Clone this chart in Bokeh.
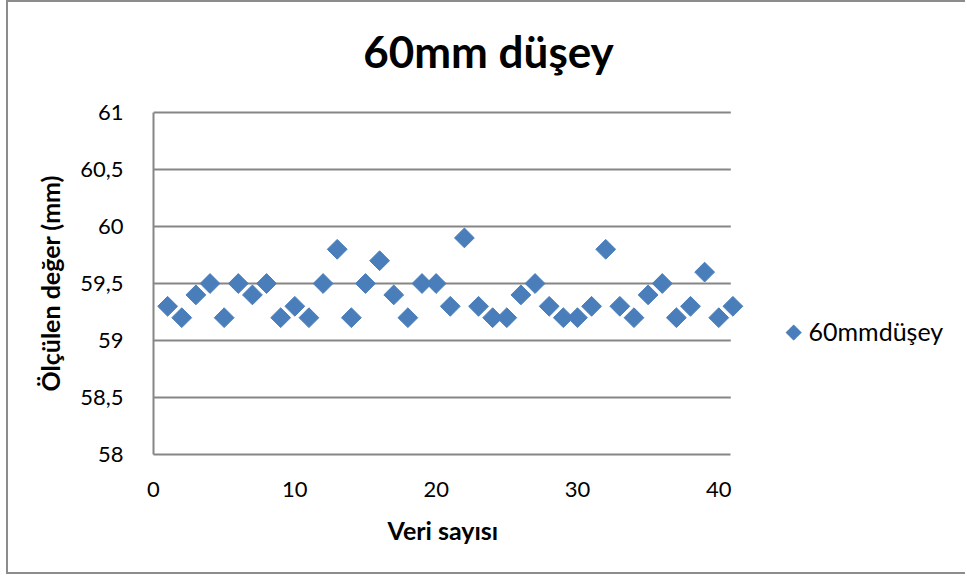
from bokeh.plotting import figure
from bokeh.models import FixedTicker, Label, Title
from bokeh.embed import file_html
from bokeh.resources import INLINE

# Measurement series: sample index vs. measured value (mm)
sample_no = list(range(1, 42))
measured = [
    59.3, 59.2, 59.4, 59.5, 59.2, 59.5, 59.4, 59.5, 59.2, 59.3,
    59.2, 59.5, 59.8, 59.2, 59.5, 59.7, 59.4, 59.2, 59.5, 59.5,
    59.3, 59.9, 59.3, 59.2, 59.2, 59.4, 59.5, 59.3, 59.2, 59.2,
    59.3, 59.8, 59.3, 59.2, 59.4, 59.5, 59.2, 59.3, 59.6, 59.2,
    59.3,
]
series_name = "60mmdüşey"
chart_title = "60mm düşey"
x_title = "Veri sayısı"
y_title = "Ölçülen değer (mm)"

x_ticks = [0, 10, 20, 30, 40]
x_extent = (0, 40.85)
y_ticks = [58, 58.5, 59, 59.5, 60, 60.5, 61]
y_tick_labels = ["58", "58,5", "59", "59,5", "60", "60,5", "61"]
y_extent = (58, 61)

FONT = "Lato"
GRID = "#868686"
BLUE = "#4A7EBB"

# The data frame fills the area above and to the right of the plotted
# region so that title and series key can be placed freely; axes and
# gridlines are bounded to the plotted extents.
p = figure(
    width=959, height=574, title=None,
    x_range=(0, 57.6), y_range=(58, 61.965),
    output_backend="svg", toolbar_location=None,
    min_border_left=145, min_border_right=0,
    min_border_top=0, min_border_bottom=122,
    styles={
        "margin-left": "6px",
        "border-left": "2px solid #8C8C8C",
        "border-top": "2px solid #8C8C8C",
        "border-bottom": "2px solid #8C8C8C",
    },
)
p.outline_line_color = None
p.background_fill_color = "white"
p.border_fill_color = "white"

# Axes
for ax in (p.xaxis[0], p.yaxis[0]):
    ax.axis_line_color = GRID
    ax.axis_line_width = 2
    ax.major_tick_line_color = None
    ax.minor_tick_line_color = None
    ax.major_label_text_font = FONT
    ax.major_label_text_font_size = "22px"
    ax.major_label_text_color = "black"

p.xaxis.ticker = FixedTicker(ticks=x_ticks)
p.xaxis.bounds = x_extent
p.xaxis.major_label_standoff = 21

p.yaxis.ticker = FixedTicker(ticks=y_ticks)
p.yaxis.bounds = y_extent
p.yaxis.major_label_overrides = dict(zip(y_ticks, y_tick_labels))
p.yaxis.major_label_standoff = 24

# Axis titles
p.add_layout(Title(
    text=x_title, text_font=FONT, text_font_size="25px",
    text_font_style="bold", text_color="black",
    align="left", offset=234, standoff=26,
), "below")
p.add_layout(Title(
    text=y_title, text_font=FONT, text_font_size="25px",
    text_font_style="bold", text_color="black",
    align="left", offset=63, standoff=26,
), "left")

# Horizontal gridlines across the plotted x extent
p.xgrid.grid_line_color = None
p.ygrid.grid_line_color = None
grid_y = y_ticks[1:]
p.segment(
    x0=[x_extent[0]] * len(grid_y), x1=[x_extent[1]] * len(grid_y),
    y0=grid_y, y1=grid_y, line_color=GRID, line_width=2, level="underlay",
)

# Diamond markers (rotated squares)
p.scatter(
    sample_no, measured, marker="square", angle=0.785398,
    size=14, fill_color=BLUE, line_color=BLUE, line_width=1,
)

# Chart title
p.add_layout(Label(
    x=335, y=404, x_units="screen", y_units="screen",
    text=chart_title, text_color="black", text_font=FONT,
    text_font_size="44px", text_font_style="bold",
    text_align="center", text_baseline="middle",
))

# Series key
p.add_layout(Label(
    x=640, y=124, x_units="screen", y_units="screen",
    text="\u25C6", text_color=BLUE, text_font="DejaVu Sans",
    text_font_size="21px", text_align="center", text_baseline="middle",
))
p.add_layout(Label(
    x=655, y=124, x_units="screen", y_units="screen",
    text=series_name, text_color="black", text_font=FONT,
    text_font_size="25px", text_align="left", text_baseline="middle",
))

open("out.html", "w").write(file_html(p, INLINE))
